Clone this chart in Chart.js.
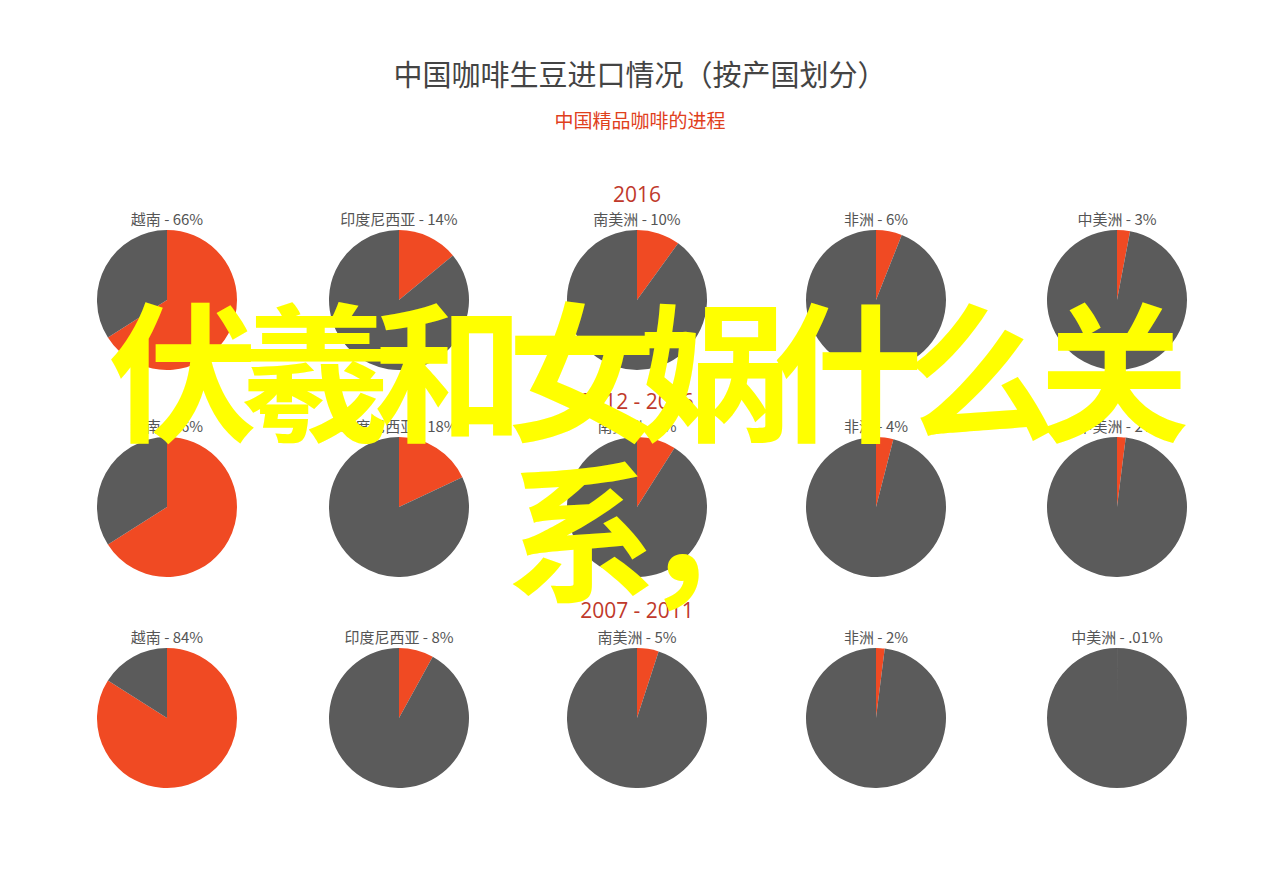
<!DOCTYPE html>
<html><head><meta charset="utf-8">
<script src="https://cdn.jsdelivr.net/npm/chart.js@4"></script>
<style>
body{margin:0;width:1280px;height:872px;background:#fff;position:relative;overflow:hidden;font-family:"Noto Sans CJK SC",sans-serif;}
.t{position:absolute;white-space:nowrap;}
.c{position:absolute;width:140px;height:140px;}
#ov{position:absolute;left:0;top:285px;width:1280px;text-align:center;color:#ffff00;font-size:150px;font-weight:700;line-height:160px;letter-spacing:-17px;}
</style></head><body>
<div class="t" style="left:0;width:1280px;text-align:center;top:52px;font-size:29px;color:#444;">中国咖啡生豆进口情况（按产国划分）</div>
<div class="t" style="left:0;width:1280px;text-align:center;top:106px;font-size:19px;color:#e0401c;">中国精品咖啡的进程</div>
<div id="root"></div>
<div id="ov">伏羲和女娲什么关<br>系，</div>
<script>
const periods = ["2016", "2012 - 2016", "2007 - 2011"];
const regions = ["越南", "印度尼西亚", "南美洲", "非洲", "中美洲"];
const shares2016 = [66, 14, 10, 6, 3];
const shares2012 = [66, 18, 9, 4, 2];
const shares2007 = [84, 8, 5, 2, 0.01];
const shareLabels2016 = ["66%", "14%", "10%", "6%", "3%"];
const shareLabels2012 = ["66%", "18%", "9%", "4%", "2%"];
const shareLabels2007 = ["84%", "8%", "5%", "2%", ".01%"];
const rows = [[shares2016, shareLabels2016], [shares2012, shareLabels2012], [shares2007, shareLabels2007]];
const cx = [167, 399, 637, 876, 1117];
const rowY = [300, 507, 718];
const headY = [180, 387, 596];
const root = document.getElementById('root');
rows.forEach((r, ri) => {
  const h = document.createElement('div');
  h.className = 't'; h.style.cssText = `left:0;width:1274px;text-align:center;top:${headY[ri]}px;font-size:21px;color:#c0392b;font-family:"Open Sans",sans-serif;`;
  h.textContent = periods[ri]; root.appendChild(h);
  regions.forEach((name, i) => {
    const l = document.createElement('div');
    l.className = 't'; l.style.cssText = `left:${cx[i]-100}px;width:200px;text-align:center;top:${rowY[ri]-92}px;font-size:15px;color:#555;`;
    l.textContent = name + " - " + r[1][i]; root.appendChild(l);
    const d = document.createElement('div'); d.className = 'c';
    d.style.left = (cx[i]-70)+'px'; d.style.top = (rowY[ri]-70)+'px';
    const cv = document.createElement('canvas'); d.appendChild(cv); root.appendChild(d);
    new Chart(cv, {type:'pie', data:{labels:[name,'其他'], datasets:[{data:[r[0][i], 100-r[0][i]], backgroundColor:['#f04a23','#5b5b5b'], borderWidth:0}]},
      options:{responsive:true, maintainAspectRatio:false, animation:false, plugins:{legend:{display:false}, tooltip:{enabled:false}}}});
  });
});
</script>
</body></html>
